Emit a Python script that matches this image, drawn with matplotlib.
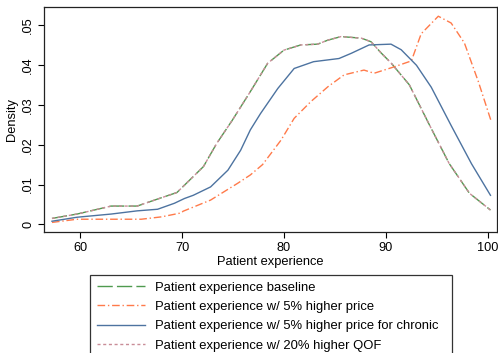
import matplotlib
matplotlib.use("Agg")
import matplotlib.pyplot as plt
from matplotlib.lines import Line2D

plt.rcParams['font.family'] = ['Liberation Sans', 'DejaVu Sans']

# Kernel density estimates of patient experience under each scenario
x_base = [57.24, 59.7, 63.05, 65.6, 67.3, 69.5, 71.1, 72.1, 73.4, 74.9, 76.7, 78.4,
          80.0, 81.65, 83.3, 84.3, 85.6, 87.6, 88.54, 89.53, 90.5, 92.3, 94.3,
          96.2, 98.2, 100.26]
y_base = [0.0015, 0.0026, 0.0046, 0.0046, 0.0061, 0.0080, 0.0120, 0.0145, 0.0203,
          0.0260, 0.0333, 0.0404, 0.0437, 0.0450, 0.0452, 0.0462, 0.0471, 0.0467,
          0.0458, 0.0430, 0.0405, 0.0350, 0.0248, 0.0153, 0.0078, 0.0036]

x_price = [57.24, 59.7, 63.05, 66.0, 68.0, 69.94, 70.1, 72.8, 75.45, 76.7, 77.9,
           79.7, 81.0, 82.64, 84.3, 85.9, 87.85, 88.84, 90.8, 92.5, 93.46, 95.14,
           96.4, 97.7, 99.07, 100.35]
y_price = [0.0005, 0.0013, 0.0013, 0.0013, 0.0019, 0.0029, 0.0033, 0.0061, 0.0103,
           0.0124, 0.0150, 0.0211, 0.0266, 0.0308, 0.0345, 0.0375, 0.0387, 0.0379,
           0.0395, 0.0410, 0.0478, 0.0522, 0.0505, 0.0455, 0.0358, 0.0257]

x_chronic = [57.24, 59.7, 63.05, 65.6, 67.6, 69.25, 70.24, 71.1, 72.8, 74.5, 75.75,
             76.7, 77.7, 79.4, 81.0, 82.9, 85.4, 86.6, 88.35, 90.5, 91.5, 93.0,
             94.45, 96.4, 98.4, 100.26]
y_chronic = [0.0008, 0.0018, 0.0026, 0.0034, 0.0038, 0.0053, 0.0065, 0.0073, 0.0094,
             0.0136, 0.0186, 0.0237, 0.0278, 0.0341, 0.0391, 0.0408, 0.0416, 0.0429,
             0.0450, 0.0452, 0.0438, 0.0399, 0.0344, 0.0248, 0.0152, 0.0073]

x_qof = list(x_base)
y_qof = list(y_base)

labels = ["Patient experience baseline",
          "Patient experience w/ 5% higher price",
          "Patient experience w/ 5% higher price for chronic",
          "Patient experience w/ 20% higher QOF"]

x_ticks = [60, 70, 80, 90, 100]
y_ticks = [0, 0.01, 0.02, 0.03, 0.04, 0.05]
y_ticklabels = ["0", ".01", ".02", ".03", ".04", ".05"]

c_base = "#4f9a4f"
c_price = "#ff7a4a"
c_chronic = "#4d73a0"
c_qof = "#c98d98"

# line styles: (colour, width, dash pattern)
st_base = dict(color=c_base, lw=1.0, dashes=(11, 3))
st_price = dict(color=c_price, lw=1.0, dashes=(5.5, 2, 1, 2))
st_chronic = dict(color=c_chronic, lw=1.0, linestyle="-")
st_qof = dict(color=c_qof, lw=1.0, dashes=(2.2, 1.9))

fig = plt.figure(figsize=(4.98, 3.53), dpi=100)
fig.patch.set_facecolor("white")
ax = fig.add_axes([0.0884, 0.3428, 0.9096, 0.6372])

ax.plot(x_base, y_base, **st_base)
ax.plot(x_price, y_price, **st_price)
ax.plot(x_chronic, y_chronic, **st_chronic)
ax.plot(x_qof, y_qof, **st_qof)

ax.set_xlim(56.46, 100.9)
ax.set_ylim(-0.0019, 0.0545)
ax.set_xticks(x_ticks)
ax.set_yticks(y_ticks)
ax.set_yticklabels(y_ticklabels, rotation=90, va="center")
ax.tick_params(axis="both", direction="out", length=4, width=0.8,
               labelsize=9.2, colors="black", pad=3)
for s in ax.spines.values():
    s.set_linewidth(0.9)
    s.set_color("#222222")

ax.set_xlabel("Patient experience", fontsize=9.3, labelpad=2)
ax.set_ylabel("Density", fontsize=9.3, labelpad=3)

handles = [Line2D([], [], **st_base), Line2D([], [], **st_price),
           Line2D([], [], **st_chronic), Line2D([], [], **st_qof)]
leg = fig.legend(handles, labels, loc="upper left", mode="expand",
                 bbox_to_anchor=(90 / 498, 1 - 275 / 353, 362 / 498, 0),
                 fontsize=9.4, handlelength=3.7, handletextpad=0.75,
                 labelspacing=0.55, borderpad=0.5, borderaxespad=0,
                 frameon=True, fancybox=False)
leg.get_frame().set_edgecolor("black")
leg.get_frame().set_linewidth(0.9)

fig.savefig("out.png", dpi=100, facecolor="white")
